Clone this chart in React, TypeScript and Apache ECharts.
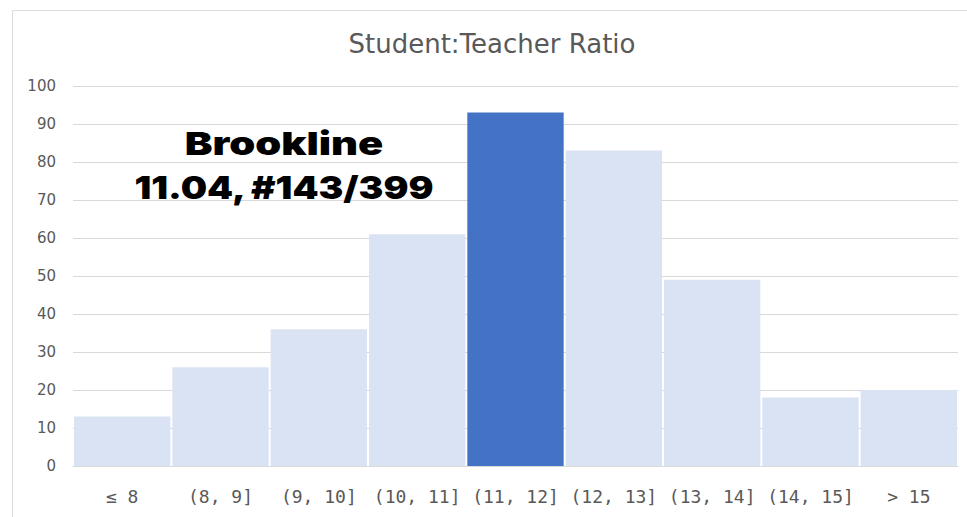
import React, { useEffect, useRef } from "react";
import * as echarts from "echarts";

const categories = ["≤ 8", "(8, 9]", "(9, 10]", "(10, 11]", "(11, 12]", "(12, 13]", "(13, 14]", "(14, 15]", "> 15"];
const counts = [13, 26, 36, 61, 93, 83, 49, 18, 20];
const highlightIndex = 4;
const titleText = "Student:Teacher Ratio";
const annotationLines = ["Brookline", "11.04, #143/399"];

export default function App() {
  const ref = useRef<HTMLDivElement>(null);
  useEffect(() => {
    const chart = echarts.init(ref.current!, null, { renderer: "svg" });
    chart.setOption({
      animation: false,
      backgroundColor: "#ffffff",
      graphic: [
        {
          type: "polyline",
          shape: { points: [[12.5, 520], [12.5, 10.5], [970, 10.5]] },
          style: { fill: "none", stroke: "#dcdcdc", lineWidth: 1 },
          silent: true,
        },
        {
          type: "text",
          x: 492,
          y: 44,
          style: {
            text: titleText,
            fontFamily: "DejaVu Sans",
            fontSize: 26,
            fill: "#595959",
            align: "center",
            verticalAlign: "middle",
          },
        },
        {
          type: "text",
          x: 284,
          y: 143,
          scaleX: 1.3,
          style: {
            text: annotationLines[0],
            fontFamily: "Inter",
            fontWeight: 900,
            fontSize: 32,
            fill: "#000000",
            align: "center",
            verticalAlign: "middle",
          },
          z: 10,
        },
        {
          type: "text",
          x: 284,
          y: 187,
          scaleX: 1.16,
          style: {
            text: annotationLines[1],
            fontFamily: "Inter",
            fontWeight: 900,
            fontSize: 32,
            fill: "#000000",
            align: "center",
            verticalAlign: "middle",
          },
          z: 10,
        },
      ],
      grid: { left: 73, right: 9, top: 86, bottom: 51, containLabel: false },
      xAxis: {
        type: "category",
        data: categories,
        axisLine: { show: true, lineStyle: { color: "#d9d9d9" } },
        axisTick: { show: false },
        axisLabel: { fontFamily: "DejaVu Sans Mono", fontSize: 18, color: "#595959", margin: 21, interval: 0 },
      },
      yAxis: {
        type: "value",
        min: 0,
        max: 100,
        interval: 10,
        axisLine: { show: false },
        axisTick: { show: false },
        splitLine: { lineStyle: { color: "#d9d9d9", width: 1 } },
        axisLabel: { fontFamily: "DejaVu Sans", fontSize: 15, color: "#595959", margin: 17 },
      },
      series: [
        {
          type: "bar",
          data: counts.map((v, i) => ({
            value: v,
            itemStyle: { color: i === highlightIndex ? "#4472c4" : "#dae3f3" },
          })),
          barCategoryGap: "2%",
        },
      ],
    });
    return () => chart.dispose();
  }, []);
  return <div ref={ref} style={{ position: "absolute", left: 0, top: 0, width: 967, height: 517 }} />;
}
